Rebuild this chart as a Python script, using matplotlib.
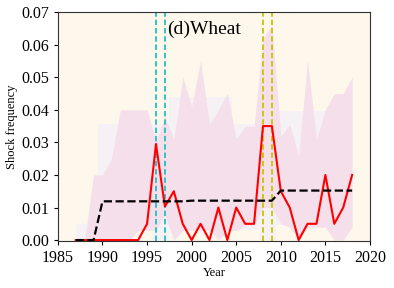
import numpy as np
import matplotlib
matplotlib.use('Agg')
import matplotlib.pyplot as plt

plt.rcParams['font.family'] = ['Liberation Serif', 'DejaVu Serif']

# 数据
years = np.arange(1987, 2019)
shock = [0, 0, 0, 0, 0, 0, 0, 0, 0.005, 0.0295, 0.0103, 0.015, 0.005, 0, 0.005, 0,
         0.01, 0, 0.01, 0.005, 0.005, 0.035, 0.035, 0.015, 0.01, 0, 0.005, 0.005,
         0.02, 0.005, 0.01, 0.02]
regime = [0, 0, 0, 0.0119, 0.0119, 0.0119, 0.0119, 0.0119, 0.0119, 0.0119, 0.0119,
          0.0119, 0.0119, 0.0121, 0.0121, 0.0121, 0.0121, 0.0121, 0.0121, 0.0121,
          0.0121, 0.0121, 0.0121, 0.0152, 0.0152, 0.0152, 0.0152, 0.0152, 0.0152,
          0.0152, 0.0152, 0.0152]
pink_hi = [0, 0, 0.02, 0.02, 0.025, 0.04, 0.04, 0.04, 0.04, 0.03, 0.038, 0.031, 0.05,
           0.041, 0.055, 0.0355, 0.04, 0.045, 0.031, 0.035, 0.035, 0.062, 0.066, 0.032,
           0.0355, 0.026, 0.055, 0.031, 0.04, 0.045, 0.045, 0.05]
pink_lo = [0, 0, 0, 0, 0, 0, 0, 0.003, 0.003, 0.003, 0.008, 0, 0.003, 0.003, 0.003,
           0.003, 0, 0.003, 0.003, 0.0045, 0.0045, 0.01, 0.01, 0.005, 0.004, 0, 0.004,
           0.004, 0.004, 0, 0, 0.004]
lav_hi = [0.005] * 3 + [0.0355] * 8 + [0.044] * 7 + [0.0355] * 5 + [0.0396] * 9
lav_lo = [0] * 3 + [0.003] * 6 + [0, 0] + [0.003] * 10 + [0, 0] + [0.0045] * 9
shock_years_a = [1996, 1997]
shock_years_b = [2008, 2009]

fig = plt.figure(figsize=(3.94, 2.88), dpi=100)
ax = fig.add_axes([0.147, 0.163, 0.792, 0.795])
ax.set_facecolor('#fdf7ec')

# 区间带
ax.fill_between(years, lav_lo, lav_hi, step='mid', color='#f6f1f5', lw=0)
ax.fill_between(years, pink_lo, pink_hi, color='#f5dfeb', lw=0)

# 冲击年份
for yr in shock_years_a:
    ax.axvline(yr, color='#22c0c4', ls=(0, (3, 1.6)), lw=1.3)
for yr in shock_years_b:
    ax.axvline(yr, color='#c8c400', ls=(0, (3, 1.6)), lw=1.3)

ax.plot(years, shock, color='red', lw=1.5)
ax.plot(years, regime, color='black', ls='--', lw=1.6)

ax.text(1997.3, 0.0648, '(d)Wheat', fontsize=14, va='center')

ax.set_xlim(1985, 2020)
ax.set_ylim(-0.0003, 0.07)
ax.set_xticks(range(1985, 2021, 5))
ax.set_yticks(np.arange(0, 0.071, 0.01))
ax.set_yticklabels(['%.2f' % v for v in np.arange(0, 0.071, 0.01)])
ax.tick_params(labelsize=11.5, length=3, width=0.8)
ax.set_xlabel('Year', fontsize=9, labelpad=1)
ax.set_ylabel('Shock frequency', fontsize=9, labelpad=2)
for s in ax.spines.values():
    s.set_color('#333333')
    s.set_linewidth(0.8)

fig.savefig('out.png', dpi=100)
